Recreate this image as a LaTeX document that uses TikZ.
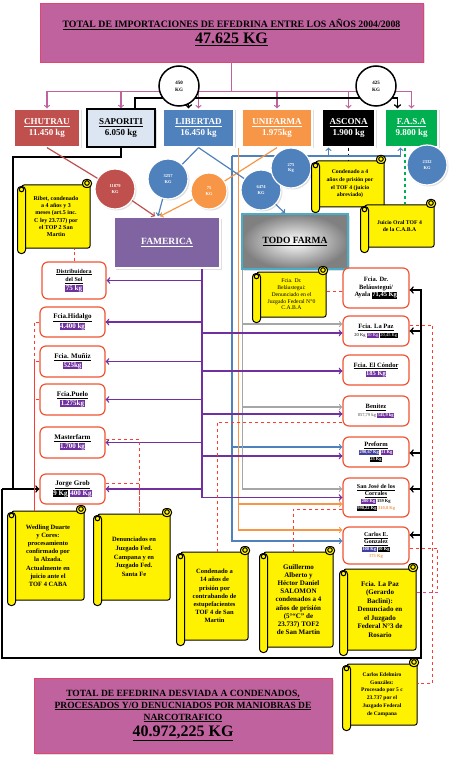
\documentclass[tikz,border=0pt]{standalone}
\usepackage{fontspec}
\setmainfont{Liberation Serif}
\usetikzlibrary{shadows}
\definecolor{titlepink}{RGB}{192,98,158}
\definecolor{titleedge}{RGB}{225,70,110}
\definecolor{chured}{RGB}{192,80,77}
\definecolor{libblue}{RGB}{79,129,189}
\definecolor{unior}{RGB}{247,150,70}
\definecolor{fasagreen}{RGB}{0,176,80}
\definecolor{sapblue}{RGB}{220,230,242}
\definecolor{famviolet}{RGB}{128,100,162}
\definecolor{tagviolet}{RGB}{112,48,160}
\definecolor{tagblue}{RGB}{64,64,160}
\definecolor{firmred}{RGB}{242,84,52}
\definecolor{dashred}{RGB}{250,60,50}
\definecolor{dashpink}{RGB}{225,70,140}
\definecolor{scrollyellow}{RGB}{255,242,0}
\definecolor{todocyan}{RGB}{75,172,198}
\definecolor{linegray}{RGB}{166,166,166}
\newcommand{\sizeto}[2]{\fontsize{#1}{#2}\selectfont}
\newcommand{\kgtag}[2]{{\setlength{\fboxsep}{0.5pt}\colorbox{#1}{\color{white}#2}}}
\newcommand{\scrollcurls}[1]{%
  \draw[scrollline,rounded corners=3.5pt] ([xshift=-4pt,yshift=-2pt]#1.north west) rectangle ([xshift=4pt,yshift=-5pt]#1.south west);
  \draw[scrollline] ([yshift=-5pt]#1.north west) circle (2.3pt);
  \draw[scrollline,rounded corners=3.5pt] ([xshift=-8pt,yshift=5pt]#1.north east) rectangle ([xshift=1pt,yshift=-3pt]#1.north east);
  \draw[scrollline] ([xshift=-3.5pt,yshift=1.5pt]#1.north east) circle (2.3pt);}
\begin{document}
\begin{tikzpicture}[x=1pt,y=-1pt,
softshadow/.style={drop shadow={opacity=0.25,shadow xshift=1.5pt,shadow yshift=-1.5pt}},
titlebox/.style={draw=titleedge,fill=titlepink,line width=0.6pt,align=center,font=\bfseries,softshadow},
firm/.style={draw=white,line width=1.2pt,minimum height=38pt,align=center,text=white,font=\bfseries\sizeto{9}{11},softshadow},
hub/.style={line width=1.5pt,align=center,font=\bfseries\sizeto{9.5}{11},softshadow},
kgcircle/.style={circle,draw=white,line width=1.2pt,minimum size=40pt,inner sep=0pt,align=center,text=white,font=\bfseries\sizeto{4.5}{5.5},softshadow},
splitcircle/.style={circle,draw=black,fill=white,line width=1.5pt,minimum size=40pt,inner sep=0pt,align=center,font=\bfseries\sizeto{5}{7}},
pharma/.style={draw=firmred,fill=white,line width=1.2pt,rounded corners=6pt,minimum width=65pt,minimum height=30pt,inner sep=1pt,align=center,font=\bfseries\sizeto{7}{8.5}},
scrollnote/.style={draw=black,fill=scrollyellow,line width=1pt,rounded corners=2pt,inner sep=1pt,align=center,font=\bfseries\sizeto{6.5}{8.2}},
scrollline/.style={draw=black,fill=scrollyellow,line width=1pt},
pinkline/.style={draw=titlepink,line width=1.2pt},
blackline/.style={draw=black,line width=1.6pt},
violetline/.style={draw=tagviolet,line width=1.4pt},
grayline/.style={draw=linegray,line width=1.2pt},
blueline/.style={draw=libblue,line width=1.2pt},
orangeline/.style={draw=unior,line width=1.2pt},
redline/.style={draw=chured,line width=1.2pt},
reddash/.style={draw=dashred,dashed,line width=1pt},
pinkdash/.style={draw=dashpink,dashed,line width=1pt},
blackdash/.style={draw=black,dashed,line width=1pt},
greendash/.style={draw=fasagreen,dashed,line width=1.2pt}]
\useasboundingbox (0,0) rectangle (450,759);

\node[titlebox,minimum width=383pt,minimum height=59pt] (importtotal) at (231.5,32.5)
  {\sizeto{9.8}{12}\underline{TOTAL DE IMPORTACIONES DE EFEDRINA ENTRE LOS AÑOS 2004/2008}\\[2pt]
   \sizeto{16}{17}\underline{47.625 KG}};

\node[firm,fill=chured,minimum width=66pt] (chutrau) at (47,128) {\underline{CHUTRAU}\\11.450 kg};
\node[firm,fill=sapblue,draw=black,line width=1.6pt,text=black,minimum width=68pt] (saporiti) at (121,128) {\underline{SAPORITI}\\6.050 kg};
\node[firm,fill=libblue,minimum width=71pt] (libertad) at (198.5,128) {\underline{LIBERTAD}\\16.450 kg};
\node[firm,fill=unior,minimum width=70pt] (unifarma) at (277,128) {\underline{UNIFARMA}\\1.975kg};
\node[firm,fill=black,minimum width=53pt] (ascona) at (348.5,128) {\underline{ASCONA}\\1.900 kg};
\node[firm,fill=fasagreen,minimum width=53pt] (fasa) at (411.5,128) {\underline{F.A.S.A}\\9.800 kg};

\node[hub,fill=famviolet,draw=white,text=white,minimum width=106pt,minimum height=51pt] (famerica) at (167,242.5) {\underline{FAMERICA}};
\node[hub,draw=todocyan,inner color=white,outer color=black!50,minimum width=106pt,minimum height=55pt] (todofarma) at (295,241.5) {\underline{TODO FARMA}};

\node[pharma,minimum width=64pt,minimum height=37pt] (distsol) at (74,280.5)
  {\sizeto{6}{7}\underline{Distribuidora}\\\sizeto{6}{7}\underline{del Sol}\\\kgtag{tagviolet}{75 kg}};
\node[pharma] (hidalgo) at (72.5,322) {\underline{Fcia.Hidalgo}\\\kgtag{tagviolet}{4.400 kg}};
\node[pharma,minimum height=31pt] (muniz) at (72.5,361.5) {\underline{Fcia. Muñiz}\\\kgtag{tagviolet}{525kg}};
\node[pharma,minimum height=31pt] (puelo) at (72.5,399.5) {\underline{Fcia.Puelo}\\\kgtag{tagviolet}{1.275kg}};
\node[pharma,minimum height=31pt] (masterfarm) at (72.5,442.5) {\underline{Masterfarm}\\\kgtag{tagviolet}{1.700 kg}};
\node[pharma] (grob) at (72.5,489) {\underline{Jorge Grob}\\\kgtag{black}{9 Kg} \kgtag{tagviolet}{400 Kg}};

\node[pharma,minimum width=66pt,minimum height=40pt,font=\bfseries\sizeto{6.5}{7.7}] (belaustegui) at (376,288)
  {Fcia. Dr.\\Beláustegui/\\Ayala \kgtag{black}{71,45 Kg}};
\node[pharma,minimum width=66pt,font=\bfseries\sizeto{6.5}{8}] (lapaz) at (376,331)
  {\underline{Fcia. La Paz}\\\sizeto{4.5}{5.5}\mdseries 20 Kg \kgtag{tagviolet}{30 Kg} \kgtag{black}{20,45 Kg}};
\node[pharma,minimum width=66pt,font=\bfseries\sizeto{6.5}{8.5}] (condor) at (376,370)
  {\underline{Fcia. El Cóndor}\\\kgtag{tagviolet}{185 Kg}};
\node[pharma,minimum width=66pt,font=\bfseries\sizeto{6.5}{8}] (benitez) at (376,411)
  {\underline{Benitez}\\\sizeto{4.5}{5.5}\textcolor{gray}{857,79 kg} \kgtag{tagviolet}{545,9 kg}};
\node[pharma,minimum width=66pt,font=\bfseries\sizeto{6.5}{7}] (preform) at (376,452)
  {\underline{Preform}\\\sizeto{4.5}{5.5}\kgtag{tagblue}{290,67 Kg} \kgtag{tagviolet}{31 Kg}\\\sizeto{4.5}{5.5}\kgtag{black}{25 Kg}};
\node[pharma,minimum width=66pt,minimum height=39pt,font=\bfseries\sizeto{6}{6.8}] (sanjose) at (376,497.5)
  {\underline{San José de los}\\\underline{Corrales}\\\sizeto{4.5}{5.5}\kgtag{tagviolet}{200 Kg} 159 Kg\\\sizeto{4.5}{5.5}\kgtag{black}{990,22 Kg} \textcolor{unior}{310,8 Kg}};
\node[pharma,minimum width=66pt,minimum height=37pt,font=\bfseries\sizeto{6}{6.8}] (carlos) at (376,545.5)
  {\underline{Carlos E.}\\\underline{Gonzalez}\\\sizeto{4.5}{5.5}\kgtag{tagblue}{100 Kg} \kgtag{black}{50 Kg}\\\sizeto{4.5}{5.5}\textcolor{unior}{175 Kg}};

\node[scrollnote,minimum width=68pt,minimum height=63pt,font=\bfseries\sizeto{6}{7.3}] (ribet) at (56,216.5)
  {Ribet, condenado\\a 4 años y 3\\meses (art.5 inc.\\C ley 23.737) por\\el TOP 2 San\\Martin};
\node[scrollnote,minimum width=68pt,minimum height=46pt,font=\bfseries\sizeto{5.7}{7.6}] (asconanote) at (350,184)
  {Condenado a 4\\años de prisión por\\el TOF 4 (juicio\\abreviado)};
\node[scrollnote,minimum width=69pt,minimum height=42pt,font=\bfseries\sizeto{5.7}{7.6}] (fasanote) at (399.5,226)
  {Juicio Oral TOF 4\\de la C.A.B.A};
\node[scrollnote,minimum width=69pt,minimum height=45pt,font=\sizeto{5.7}{6.7}] (belnote) at (291.5,294.5)
  {Fcia. Dr.\\Beláustegui:\\Denunciado en el\\Juzgado Federal N°0\\C.A.B.A};

\draw[pinkline] (importtotal.south) -- ++(0,29) coordinate (pinksplit);
\foreach \f in {chutrau,saporiti,libertad,unifarma,ascona,fasa}
  \draw[pinkline,->] (pinksplit) -| (\f.north);
\draw[blackline,->] ([xshift=14pt]saporiti.north) -- ++(0,-10) coordinate (sapup) -| ([xshift=-10pt]libertad.north);
\draw[blackline,->] (sapup) -| ([xshift=-14pt]fasa.north);

\draw[blackdash] (ascona.south) -- (ascona.south |- asconanote.north);
\path ([xshift=-6.5pt]fasa.south) coordinate (k);
\draw[greendash] (k) -- (k |- fasanote.north);

\coordinate (bluejoin) at (232,156);
\draw[blueline,->] (bluejoin) -| ([xshift=-20pt]ascona.south);
\draw[blueline,->] (bluejoin) -| ([xshift=-11pt]fasa.south);
\path ([yshift=4.5pt]carlos.west) coordinate (b2) ([yshift=5pt]preform.west) coordinate (b1);
\draw[blueline,->] (bluejoin) |- (b2);
\draw[blueline,->] (b1 -| bluejoin) -- (b1);

\path ([yshift=-6.5pt]sanjose.west) coordinate (o1) ([yshift=15.5pt]carlos.west) coordinate (o2);
\draw[orangeline,->] ([xshift=-3pt]unifarma.south west) coordinate (orangetop) |- (o2);
\draw[orangeline,->] (o1 -| orangetop) -- (o1);

\path ([yshift=7pt]lapaz.west) coordinate (g1) ([yshift=4pt]benitez.west) coordinate (g2) ([yshift=8.5pt]sanjose.west) coordinate (g3);
\draw[grayline,->] ([xshift=1pt]todofarma.south west) coordinate (graytop) |- (g3);
\foreach \g in {g1,g2}
  \draw[grayline,->] (\g -| graytop) -- (\g);

\coordinate (famtrunk) at ([xshift=35pt]famerica.south);
\draw[violetline,->] (famtrunk) |- (sanjose.west);
\foreach \n in {distsol,hidalgo,muniz,puelo,masterfarm,grob}
  \draw[violetline,->] (\n.east -| famtrunk) -- (\n.east);
\foreach \n/\dy in {lapaz/-2,condor/-1,benitez/-3,preform/-4}{
  \path ([yshift=\dy pt]\n.west) coordinate (v);
  \draw[violetline,->] (v -| famtrunk) -- (v);}

\coordinate (frameleft) at (2,489);
\coordinate (frameright) at (421,658);
\draw[blackline] (saporiti.south) -- ++(0,9) -| (frameleft -| 13,0);
\draw[blackline,->] (frameleft) -- (grob.west);
\draw[blackline,->] (frameleft) |- (frameright) |- ([yshift=-2pt]belaustegui.east);
\foreach \n/\dy in {lapaz/0,preform/-1,sanjose/8.5,carlos/10.5}{
  \path ([yshift=\dy pt]\n.east) coordinate (k);
  \draw[blackline,->] (k -| frameright) -- (k);}

\node[kgcircle,fill=chured] (c11879) at (115,189) {11879\\KG};
\node[kgcircle,fill=libblue] (c3257) at (168,179) {3257\\KG};
\node[kgcircle,fill=unior,minimum size=36pt] (c75) at (209,191) {75\\KG};
\node[kgcircle,fill=libblue] (c6474) at (261,190) {6474\\KG};
\node[kgcircle,fill=libblue] (c275) at (291,168) {275\\Kg};
\node[kgcircle,fill=libblue] (c2332) at (427,165) {2332\\KG};
\node[splitcircle] (c450) at (179,86) {450\\KG};
\node[splitcircle] (c425) at (376,86) {425\\KG};

\draw[redline] (chutrau.south) -- (c11879);
\draw[redline,->] (c11879) -- ([xshift=-12pt]famerica.north);
\draw[blueline] (libertad.south) -- (c3257);
\draw[blueline,->] (c3257) -- ([xshift=-9pt]famerica.north);
\draw[orangeline] (unifarma.south) -- (c75);
\draw[orangeline,->] (c75) -- ([xshift=-7pt]famerica.north);
\draw[blueline] (libertad.south) -- (c6474);
\draw[blueline,->] (c6474) -- ([xshift=-10pt]todofarma.north);

\node[scrollnote,minimum width=72pt,minimum height=89pt] (wedling) at (48,555.5)
  {Wedling Duarte\\y Cores:\\procesamiento\\confirmado por\\la Alzada.\\Actualmente en\\juicio ante el\\TOF 4 CABA};
\node[scrollnote,minimum width=72pt,minimum height=86pt,font=\bfseries\sizeto{6.5}{8.7}] (denuncias) at (134,557)
  {Denunciados en\\Juzgado Fed.\\Campana y en\\Juzgado Fed.\\Santa Fe};
\node[scrollnote,minimum width=67pt,minimum height=88pt] (cond14) at (214.5,596)
  {Condenado a\\14 años de\\prisión por\\contrabando de\\estupefacientes\\TOF 4 de San\\Martin};
\node[scrollnote,minimum width=69pt,minimum height=95pt,font=\bfseries\sizeto{7}{8.2}] (salomon) at (298.5,599.5)
  {Guillermo\\Alberto y\\Héctor Daniel\\SALOMON\\condenados a 4\\años de prisión\\(5°``C'' de\\23.737) TOF2\\de San Martin};
\node[scrollnote,minimum width=72pt,minimum height=81pt,font=\bfseries\sizeto{7}{8.5}] (baclini) at (380,609.5)
  {Fcia. La Paz\\(Gerardo\\Baclini):\\Denunciado en\\el Juzgado\\Federal N°3 de\\Rosario};
\node[scrollnote,minimum width=70pt,minimum height=61pt,font=\bfseries\sizeto{5.5}{7.8}] (edelmiro) at (382,694.5)
  {Carlos Edelmiro\\González:\\Procesado por 5 c\\23.737 por el\\Juzgado Federal\\de Campana};

\draw[reddash] (distsol.north) -- (distsol.north |- ribet.south);
\foreach \n in {hidalgo,muniz,puelo}
  \draw[reddash] (\n.west) -| ([xshift=-14pt]wedling.north);
\foreach \n/\dy in {masterfarm/3.5,grob/6}{
  \path ([yshift=\dy pt]\n.east) coordinate (k);
  \draw[reddash] (k) -| ([xshift=5pt]denuncias.north);}
\path ([yshift=-11pt]benitez.west) coordinate (k);
\draw[reddash] (k) -| ([xshift=2.5pt]cond14.north);
\path ([yshift=-11.5pt]sanjose.west) coordinate (k);
\draw[reddash] (k) -| ([xshift=-5.5pt]salomon.north);
\path ([yshift=-3pt]belaustegui.west) coordinate (k);
\draw[reddash] (k) -- (k -| belnote.east);
\draw[reddash] ([yshift=6pt]lapaz.east) -- ++(23,0) |- ([yshift=11.5pt]edelmiro.east);
\path ([yshift=17.5pt]baclini.east) coordinate (p);
\draw[reddash] ([yshift=-2.5pt]carlos.east) -- ++(28,0) coordinate (k) -- (k |- p);
\draw[pinkdash] (k |- p) -- (p);

\foreach \s in {ribet,asconanote,fasanote,belnote,wedling,denuncias,cond14,salomon,baclini,edelmiro}{
  \scrollcurls{\s}}

\node[titlebox,minimum width=298pt,minimum height=75pt] (desviado) at (183,715.5)
  {\sizeto{9.5}{11.5}\underline{TOTAL DE EFEDRINA DESVIADA A CONDENADOS,}\\
   \sizeto{9.5}{11.5}\underline{PROCESADOS Y/O DENUCNIADOS POR MANIOBRAS DE}\\
   \sizeto{9.5}{11.5}\underline{NARCOTRAFICO}\\[3pt]
   \sizeto{16}{17}\underline{40.972,225 KG}};
\end{tikzpicture}
\end{document}
